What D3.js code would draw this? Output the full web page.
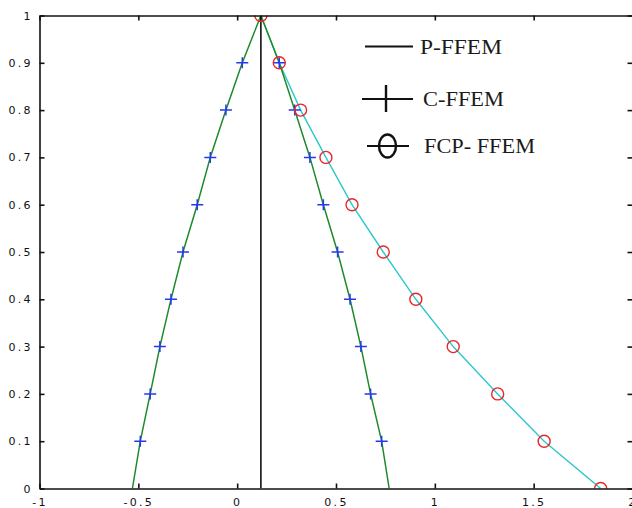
<!DOCTYPE html>
<html>
<head>
<meta charset="utf-8">
<script src="https://cdn.jsdelivr.net/npm/d3@7"></script>
<style>
  html, body { margin: 0; padding: 0; background: #fff; }
  svg { display: block; }
  .axis path, .axis line { stroke: #111; stroke-width: 1.6; }
  .axis text { font-family: "DejaVu Sans", sans-serif; font-size: 11px; fill: #111; letter-spacing: 2.3px; }
  .legend text { font-family: "Liberation Serif", "Times New Roman", serif; font-size: 20px; fill: #1a1a1a; }
</style>
</head>
<body>
<svg id="chart" width="632" height="508"></svg>
<script>
  // ── Data ──────────────────────────────────────────────────────────────────
  var levels   = [0, 0.1, 0.2, 0.3, 0.4, 0.5, 0.6, 0.7, 0.8, 0.9, 1];
  var cLeft    = [-0.53, -0.49, -0.44, -0.391, -0.335, -0.274, -0.202, -0.136, -0.057, 0.026, 0.12];
  var cRight   = [0.769, 0.731, 0.675, 0.626, 0.571, 0.508, 0.436, 0.368, 0.291, 0.213, 0.12];
  var fcp      = [1.839, 1.553, 1.318, 1.093, 0.904, 0.739, 0.581, 0.449, 0.321, 0.213, 0.12];
  var pX       = [0.12, 0.12];
  var pY       = [0, 1];
  var xTicks   = [-1, -0.5, 0, 0.5, 1, 1.5, 2];
  var yTicks   = [0, 0.1, 0.2, 0.3, 0.4, 0.5, 0.6, 0.7, 0.8, 0.9, 1];
  var legendNames = ['P-FFEM', 'C-FFEM', 'FCP- FFEM'];

  // ── Scales ────────────────────────────────────────────────────────────────
  var svg = d3.select('#chart');
  var L = 39.5, R = 632.5, T = 15.5, B = 488.5;
  var x = d3.scaleLinear().domain([-1, 2]).range([L, R]);
  var y = d3.scaleLinear().domain([0, 1]).range([B, T]);

  svg.append('clipPath').attr('id', 'plot-clip')
    .append('rect').attr('x', L).attr('y', T).attr('width', R - L).attr('height', B - T);

  var plot = svg.append('g').attr('clip-path', 'url(#plot-clip)');

  var line = d3.line()
    .x(function (d) { return x(d[0]); })
    .y(function (d) { return y(d[1]); });

  function pairs(xs, ys) { return xs.map(function (v, i) { return [v, ys[i]]; }); }

  // ── Lines ─────────────────────────────────────────────────────────────────
  plot.append('path').datum(pairs(fcp, levels)).attr('d', line)
    .attr('fill', 'none').attr('stroke', '#2cc8cc').attr('stroke-width', 1.4);
  plot.append('path').datum(pairs(cLeft, levels)).attr('d', line)
    .attr('fill', 'none').attr('stroke', '#1f8a2a').attr('stroke-width', 1.5);
  plot.append('path').datum(pairs(cRight, levels)).attr('d', line)
    .attr('fill', 'none').attr('stroke', '#1f8a2a').attr('stroke-width', 1.5);
  plot.append('path').datum(pairs(pX, pY)).attr('d', line)
    .attr('fill', 'none').attr('stroke', '#000').attr('stroke-width', 1.5);

  // ── Markers ───────────────────────────────────────────────────────────────
  var plusPts = pairs(cLeft, levels).concat(pairs(cRight, levels))
    .filter(function (d) { return d[1] > 0 && d[1] < 1; });
  plot.append('g').selectAll('path').data(plusPts).join('path')
    .attr('d', function (d) {
      var cx = x(d[0]), cy = y(d[1]);
      return 'M' + (cx - 6) + ',' + cy + 'H' + (cx + 6) + 'M' + cx + ',' + (cy - 5.5) + 'V' + (cy + 5.5);
    })
    .attr('stroke', '#2438f0').attr('stroke-width', 1.5).attr('fill', 'none');

  plot.append('g').selectAll('circle').data(pairs(fcp, levels)).join('circle')
    .attr('cx', function (d) { return x(d[0]); })
    .attr('cy', function (d) { return y(d[1]); })
    .attr('r', 6)
    .attr('fill', 'none').attr('stroke', '#e8262a').attr('stroke-width', 1.4);

  // ── Axes (inward ticks on all four sides) ─────────────────────────────────
  svg.append('g').attr('class', 'axis').attr('transform', 'translate(0,' + B + ')')
    .call(d3.axisBottom(x).tickValues(xTicks).tickFormat(String).tickSizeInner(-5).tickSizeOuter(0).tickPadding(9.5));
  svg.append('g').attr('class', 'axis').attr('transform', 'translate(' + L + ',0)')
    .call(d3.axisLeft(y).tickValues(yTicks).tickFormat(String).tickSizeInner(-5).tickSizeOuter(0).tickPadding(6.7));
  svg.append('g').attr('class', 'axis').attr('transform', 'translate(0,' + T + ')')
    .call(d3.axisTop(x).tickValues(xTicks).tickFormat('').tickSizeInner(-5).tickSizeOuter(0));
  svg.append('g').attr('class', 'axis').attr('transform', 'translate(' + R + ',0)')
    .call(d3.axisRight(y).tickValues(yTicks).tickFormat('').tickSizeInner(-5).tickSizeOuter(0));
  svg.selectAll('.axis .domain').attr('stroke-width', 1.8);

  // ── Legend ────────────────────────────────────────────────────────────────
  var lg = svg.append('g').attr('class', 'legend');
  var rowsY = [46.5, 99, 146];
  var textLens = [82, 81, 111];
  var textX = [420, 423, 424];

  lg.append('line').attr('x1', 365).attr('x2', 413).attr('y1', rowsY[0]).attr('y2', rowsY[0])
    .attr('stroke', '#111').attr('stroke-width', 2);
  lg.append('line').attr('x1', 362).attr('x2', 413).attr('y1', rowsY[1]).attr('y2', rowsY[1])
    .attr('stroke', '#111').attr('stroke-width', 2.2);
  lg.append('line').attr('x1', 386).attr('x2', 386).attr('y1', rowsY[1] - 14).attr('y2', rowsY[1] + 13)
    .attr('stroke', '#111').attr('stroke-width', 2.4);
  lg.append('line').attr('x1', 367).attr('x2', 409).attr('y1', rowsY[2]).attr('y2', rowsY[2])
    .attr('stroke', '#111').attr('stroke-width', 2);
  lg.append('ellipse').attr('cx', 387.5).attr('cy', rowsY[2]).attr('rx', 8.5).attr('ry', 11.5)
    .attr('fill', 'none').attr('stroke', '#111').attr('stroke-width', 2.5);

  lg.selectAll('text').data(legendNames).join('text')
    .attr('x', function (d, i) { return textX[i]; })
    .attr('y', function (d, i) { return rowsY[i] + 7; })
    .attr('textLength', function (d, i) { return textLens[i]; })
    .attr('lengthAdjust', 'spacingAndGlyphs')
    .text(function (d) { return d; });
</script>
</body>
</html>
